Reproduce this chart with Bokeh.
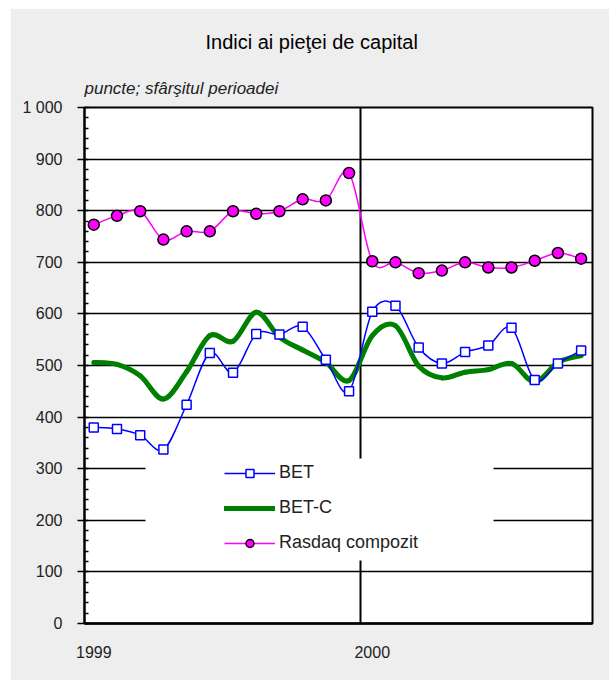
import numpy as np
from bokeh.plotting import figure
from bokeh.models import (Range1d, FixedTicker, SingleIntervalTicker, Title,
                          Legend, LegendItem, BoxAnnotation, ColumnDataSource)
from bokeh.embed import file_html
from bokeh.resources import INLINE

# ---- data (month-end values, Jan 1999 .. Oct 2000) ----
months = list(range(22))
year_ticks = [0, 12]
year_labels = ["1999", "2000"]
year_break = [11.5]
bet = [380, 377, 365, 337, 424, 524, 486, 561, 560, 575, 511, 450,
       604, 616, 535, 504, 526, 539, 573, 472, 504, 529]
betc = [506, 502, 480, 435, 488, 558, 547, 603, 555, 530, 506, 471,
        558, 577, 499, 476, 487, 492, 504, 468, 506, 519]
rasdaq = [773, 790, 799, 744, 760, 760, 799, 794, 799, 822, 820, 873,
          702, 700, 679, 684, 700, 690, 690, 703, 718, 707]
y_ticks_interval = 100
y_max = 1000

FONT = "Liberation Sans"


def smooth_source(xs, ys):
    """Cubic Bezier control points (Catmull-Rom) so the line is drawn smoothed."""
    xs = np.asarray(xs, float)
    ys = np.asarray(ys, float)
    n = len(xs)
    xp = np.concatenate([[xs[0]], xs, [xs[-1]]])
    yp = np.concatenate([[ys[0]], ys, [ys[-1]]])
    return ColumnDataSource(dict(
        x0=xp[1:n], y0=yp[1:n], x1=xp[2:n + 1], y1=yp[2:n + 1],
        cx0=xp[1:n] + (xp[2:n + 1] - xp[0:n - 1]) / 6,
        cy0=yp[1:n] + (yp[2:n + 1] - yp[0:n - 1]) / 6,
        cx1=xp[2:n + 1] - (xp[3:n + 2] - xp[1:n]) / 6,
        cy1=yp[2:n + 1] - (yp[3:n + 2] - yp[1:n]) / 6,
    ))


p = figure(width=599, height=672, title=None,
           x_range=Range1d(-0.4, 21.49), y_range=Range1d(0, y_max),
           output_backend="svg", toolbar_location=None,
           min_border_left=74, min_border_right=17,
           min_border_top=99, min_border_bottom=57,
           background_fill_color="white", border_fill_color="#EEEEEE")
p.margin = (8, 0, 0, 10)

p.outline_line_color = "black"
p.outline_line_width = 2

# y axis
p.yaxis.ticker = SingleIntervalTicker(interval=y_ticks_interval, num_minor_ticks=5)
p.yaxis.major_label_overrides = {1000: "1 000"}
p.yaxis.axis_line_color = "black"
p.yaxis.axis_line_width = 2
p.yaxis.major_tick_line_color = "black"
p.yaxis.major_tick_line_width = 1.5
p.yaxis.major_tick_out = 7
p.yaxis.major_tick_in = 0
p.yaxis.minor_tick_line_color = "black"
p.yaxis.minor_tick_line_width = 1.5
p.yaxis.minor_tick_in = 4
p.yaxis.minor_tick_out = 0
p.yaxis.major_label_standoff = 15
p.yaxis.major_label_text_font = FONT
p.yaxis.major_label_text_font_size = "16px"
p.yaxis.major_label_text_color = "#222222"

# x axis
p.xaxis.ticker = FixedTicker(ticks=year_ticks)
p.xaxis.major_label_overrides = dict(zip(year_ticks, year_labels))
p.xaxis.axis_line_color = "black"
p.xaxis.axis_line_width = 2.5
p.xaxis.major_tick_out = 0
p.xaxis.major_tick_in = 0
p.xaxis.minor_tick_out = 0
p.xaxis.minor_tick_in = 0
p.xaxis.major_label_standoff = 22
p.xaxis.major_label_text_font = FONT
p.xaxis.major_label_text_font_size = "16px"
p.xaxis.major_label_text_color = "#222222"

# grids
p.ygrid.grid_line_color = "black"
p.ygrid.grid_line_width = 1.5
p.xgrid.ticker = FixedTicker(ticks=year_break)
p.xgrid.grid_line_color = "black"
p.xgrid.grid_line_width = 2

# white area behind legend (hides the grid there)
box = BoxAnnotation(left=61, right=409, bottom=63, top=165,
                    left_units="screen", right_units="screen",
                    bottom_units="screen", top_units="screen",
                    fill_color="white", fill_alpha=1.0, line_alpha=0,
                    level="underlay")
p.add_layout(box)

# ---- series ----
p.bezier(x0="x0", y0="y0", x1="x1", y1="y1", cx0="cx0", cy0="cy0",
         cx1="cx1", cy1="cy1", source=smooth_source(months, betc),
         line_color="#008000", line_width=5, line_cap="round")
p.bezier(x0="x0", y0="y0", x1="x1", y1="y1", cx0="cx0", cy0="cy0",
         cx1="cx1", cy1="cy1", source=smooth_source(months, bet),
         line_color="#0000FF", line_width=1.5)
m_bet = p.scatter(months, bet, marker="square", size=9, fill_color="white",
                  line_color="#0000FF", line_width=1.5)
p.bezier(x0="x0", y0="y0", x1="x1", y1="y1", cx0="cx0", cy0="cy0",
         cx1="cx1", cy1="cy1", source=smooth_source(months, rasdaq),
         line_color="#FF00FF", line_width=1.5)
m_ras = p.scatter(months, rasdaq, marker="circle", size=11, fill_color="#FF00FF",
                  line_color="black", line_width=1.5)

# legend line-style proxies (draw nothing in the plot)
nan = [np.nan]
l_bet = p.line(x=nan, y=nan, line_color="#0000FF", line_width=1.5)
l_betc = p.line(x=nan, y=nan, line_color="#008000", line_width=5, line_cap="round")
l_ras = p.line(x=nan, y=nan, line_color="#FF00FF", line_width=1.5)

legend = Legend(items=[LegendItem(label="BET", renderers=[l_bet, m_bet]),
                       LegendItem(label="BET-C", renderers=[l_betc]),
                       LegendItem(label="Rasdaq compozit", renderers=[l_ras, m_ras])],
                location=(130, 60), padding=10, spacing=14, margin=0,
                glyph_width=51, glyph_height=20, label_height=20,
                label_standoff=4, background_fill_alpha=0,
                border_line_alpha=0, label_text_font=FONT,
                label_text_font_size="18px", label_text_color="#222222")
p.add_layout(legend)

# titles (first added sits closest to the plot)
p.add_layout(Title(text="puncte; sfârşitul perioadei", align="left",
                   offset=0, standoff=20, text_font=FONT,
                   text_font_size="17px", text_font_style="italic",
                   text_color="#222222"), "above")
p.add_layout(Title(text="Indici ai pieţei de capital", align="left",
                   offset=121, standoff=28, text_font=FONT,
                   text_font_size="20px", text_font_style="normal",
                   text_color="black"), "above")

open("out.html", "w").write(file_html(p, INLINE))
